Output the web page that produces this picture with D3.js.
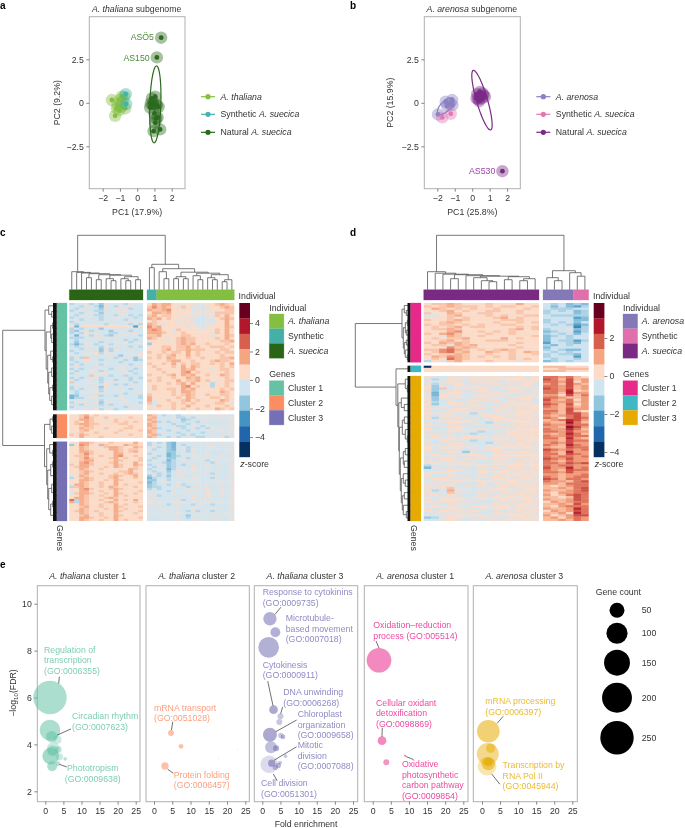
<!DOCTYPE html>
<html><head><meta charset="utf-8">
<script src="https://cdn.jsdelivr.net/npm/d3@7/dist/d3.min.js"></script>
<style>html,body{margin:0;background:#fff}svg{display:block;font-family:"Liberation Sans",Arial,sans-serif;filter:blur(.35px)}</style>
</head><body><svg id="c" width="685" height="828"></svg>
<script>
// ---------- PCA data (panel a) ----------
const aThalianaPC1=[-1.47,-1.28,-1.14,-1.03,-0.89,-0.7,-0.94,-1.18,-0.83,-0.75,-1.03];
const aThalianaPC2=[0.16,-0.75,-0.13,0.16,0.35,-0.32,-0.23,-0.32,0.06,0.35,-0.42];
const aSynthPC1=[-0.66,-0.64];
const aSynthPC2=[0.5,-0.07];
const aNaturalPC1=[1.14,1.39,0.85,0.95,0.75,1.24,1.04,1.1,1.18,1.04,1.33,0.95,1.0,0.91,0.79,1.14];
const aNaturalPC2=[2.61,3.74,0.25,-0.04,-0.27,-0.23,0.35,-0.9,-0.84,-1.15,-1.53,-1.63,-0.61,-0.07,-0.04,-0.13];
// ---------- PCA data (panel b) ----------
const bArenosaPC1=[-1.96,-1.52,-1.15,-1.29,-1.44,-1.13];
const bArenosaPC2=[-0.67,0.06,0.16,-0.07,-0.19,-0.13];
const bSynthPC1=[-1.71,-1.23];
const bSynthPC2=[-0.84,-0.63];
const bNaturalPC1=[0.29,0.44,0.64,0.54,0.35,0.73,0.6,0.44,0.25,0.4,1.73];
const bNaturalPC2=[0.5,0.63,0.44,0.25,0.21,0.35,0.54,0.38,0.25,0.1,-3.93];
// ellipses: centre, major half axis, minor half axis (PC units)
const aEllipse=[1.05,-0.09,0.07,2.21,0.32,0];
const bEllipseNat=[0.56,0.15,-0.5,1.71,0.3,0.09];
const bEllipseAre=[-1.52,-0.19,0.43,0.44,0.2,-0.2];
const pcTicksX=[-2,-1,0,1,2];
const pcTicksY=[-2.5,0,2.5];

// ---------- Heat map rows: one character per cell, code 7 = z 0, code 0 = lowest bin ----------
const cLeftA=["566756476675766","665675376576766","656766476767566","567665566778666","665676476676666","656765566577565","566676566766656","675666576765766","566767666667667","656676757666565","838888888888828","565666467767666","546756664676566","565767665576776","636757654667675","555667767766666","656676676675656","646766566767567","535765665667666","656676576766575","665767475676666","566676475766766","656768576666667","666667677646768","575966667567646","566876566675645","656767666656666","575666576666576","676667666677667","565667665676656","656686566677566","576666876667656","666697665665666","565677566667565","656766567566576","966676576766656","676767686565676","566676476676766","565676576766566","657668566676676","656767676665667","346676566576665","355677666676665","676766576667666","567668467677665","665766565666677","576676667665676","666768576566766"];
const cRightA=["8a9aa8878767889a98","9b9a987987767889a9","a99ab8878677788899","8aa9a8888777879999","9a89988787767798a8","a9a8987877667789a9","8988887787667688a8","a977888877667788a8","b9a8887878777888a9","aba8879888778898a8","aaa9878988888798a8","99a8888998888788a9","a978789a99888898a8","8888789a998888899a","4888889a9a88988898","88899899a898899989","8889a899a999888998","98898998a898889899","88989a88a898888988","9898a988988988899a","88889aa8898889a998","98898a89899889898a","8988898a8a98888989","8898888a9a88878998","8889888ab898888898","98889a8a9a88988a98","88988988a9a8888898","989888a899a8987899","8888989a8a88858898","8988888ab898858898","8988998a9a88888989","7888898aa988888a98","98888989a988988998","a8888898a988899898","a7889889a898888a98","968889898988889987","87988988a888988898","78888989889888a989"];
const cLeftB=["889a89888878888","889b98898888988","88aa98878988888","898a98888989898","89aa99878899888","889a98888888988","88a998898889988","889a88878898889","889889888988888","98a988888878988","88a888988888888"];
const cRightB=["a96566567767767776","9a6667556576676667","a96766645666767767","9a5657656657666676","a96665665766766667","a96766556765666777","9a5666756656576667","a96657665766767767","a96766566665676677","9a5666657566666766","a96657566655676757"];
const cLeftC=["88aa988898888a8","48ba88a9888a998","88a98869aa988a9","88a98888aa98998","88aa98888a989a8","889b98888aa8888","899a88988ab8898","889b98889a89889","889aa8888a98889","88ab98889a888a8","98aa98888a988a9","89aa88898a98898","88a988988888a98","889a98888899a88","889a88988989a98","68a988889a988a8","589a98889a88898","88aa98898a98888","88a988988a88889","7aa988988a89888","59a98898a988898","88ab98889a98888","78aa88988a88889","69aa98898a98898","88a988988a89888","8aa98889a988888","c5a988988a898a8","a5a98889a988898","88a988988a89888","889a88988a98889","88a988898a89888","89a989888a98889","88a988988a88898","889a88988a98888","88aa98898a88889","88a988988a89888"];
const cRightC=["575643666676766767","566743656766676767","675643675666776676","756643665766667667","666644675766766676","576634666766766767","665634576776766767","656744665667667667","576635676766576676","666545667667657667","566645656776767667","657645666766766767","566735676866766667","656646766776667667","675656776667656667","465646766766677667","356656676776656676","446756667676667667","356766766766766776","456656756667676767","455666765776766667","565667667667767767","676656676776766767","766667667666866767","675667666776876767","776666766867666667","676766756676776767","867667676766767667","766657766567656667","677666766676667667","766766766767676767","667676665756656667","766666766676676676","666767664666766767","767666765766677667","666676766777667667"];
const dLeftA=["899a98889888a88","989a99989899889","8a9898988988898","889a89889988988","988a98899888988","6689a8889898899","8889898889a8988","9889a9888899988","889a98888988989","989989898899888","8989a8998888989","899a98888889a89","888ab8898989888","98ab98889889888","887a98898888889","89899a8888a8988","889a89889998888","98a9a9888888988","8997a9a88889888","888b9a988888988","99bca98989a9888","89bc9a88a9898a9","9899a9889889889","8a9ba9898989888","898ca9888889898","5879a8889888788"];
const dRightA=["656454","646435","655566","565645","566645","655555","666634","566644","565646","656534","666625","566745","456635","565646","456566","466566","465535","366546","546566","466666","565446","656566","565546","566636","656656","456566"];
const dLeftB=["088888888888888","888888888888888","888888888888888"];
const dRightB=["999888","889999","999888"];
const dLeftC=["876877878877878","656787787788878","767876878767787","757787677877787","847687877677786","849767787678767","746786787767877","737887677878777","738776788776677","748786777677887","846767787867786","756877867778777","846886776677887","767677877787878","877788786877778","766787766877887","877867577677887","768777688877878","857786767887787","677878767878877","767887765677887","876776776867788","767887666787877","866786787767888","776877656678778","777766566778888","786768887777887","677878776877878","868776566787788","767787665777877","776877767687887","868787667878787","877776778876777","767874766878887","786777876887787","677767777778878","778878787886778","867876766877787","787778767777877","566777787778878","377767677878878","667886687687787","787767787887777","866876676778878","767777687877787","788767767887887","677787787778777","777876676878878","878767787687787","777977667887778","756a76677877787","867977777687888","786876687777877","767776777878787","778887686787787","877877766778778","676777667876887","787876887787877","767877677887787","878787876767878","677777766877787","767787877778877","457877687767878","667876767787787"];
const dRightC=["bbab98","cb9c9a","bbac8a","ab9ca9","bbac9a","cbac9a","bbad89","bb9daa","aa8c9b","bba99a","ca9b8a","baab9a","cb9c8a","ba9b9a","aa9caa","bb9c98","ba9cca","a9abca","ba8bcb","9abdca","a99eb9","baacbb","aa9eca","baadb9","bbacaa","a9adb9","baacbb","bb9da9","aa9cbb","abacaa","ba9dba","a99cbb","cbabab","ba9daa","bb9cba","babbab","cbacaa","ba9baa","bbacbc","babbaa","caadab","ba9cbb","bbacaa","aa9aab","ba9abb","cb9bba","baa9bc","aa9bbb","989abb","99a9bc","a99abc","98aabb","a89bcb","9989cb","a99acb","8a9abb","99a9ca","98abbb","a99adb","8a9acb","99a8db","a89acc","9a8aba","99a9ba"];

// ---------- Dendrogram structure: [height, left, right], 0 = leaf ----------
const treeCL=[18,0,[17.3,0,[16.7,0,[16,[12,0,0],[15,[10,0,0],[14.5,[11,0,[9,0,0]],[13,[11,0,[9,0,0]],[10,0,0]]]]]]]];
const treeCR=[25.4,[22,0,0],[21,[18,0,[11,0,0]],[17.5,[13,[11,0,0],[11,0,0]],[16.5,[14,0,[10,0,0]],[15,[12,0,[10,0,0]],[10,[8,0,0],0]]]]]];
const treeDL=[18,0,[16.5,0,[15.5,0,[15,[11,0,0],[14,0,[13.5,[12,0,[9,0,[8,0,0]]],[13,[10,0,0],[11,[9,0,0],0]]]]]]]];
const treeDR=[19,[12,0,[9,0,0]],[17,0,[13.5,0,0]]];
const rowC1=[11.7,[8,0,[5,0,0]],[10.5,[6,[4,0,0],[5,0,[3,0,0]]],[9,[6,0,[4,0,0]],[8,[5,0,[3,0,0]],[7,[4,0,0],[5,0,[3,0,0]]]]]]];
const rowC2=[6.7,[4,0,0],[5,0,[3,0,0]]];
const rowC3=[10,[7,0,[4,0,0]],[9,[6,[4,0,0],[3,0,0]],[8,[5,0,[3,0,0]],[6,[4,0,0],[3,0,0]]]]];
const rowD1=[8.3,[6,0,[4,0,0]],[7,[5,[3,0,0],[4,0,0]],[6,[4,0,0],[5,0,[3,0,0]]]]];
const rowD3=[12.5,[5,0,[3,0,0]],[11.5,[9,0,[6,0,0]],[11,[8,[6,0,0],[5,0,[3,0,0]]],[10,[7,[5,0,0],[6,0,0]],[9,[7,0,[5,0,0]],[8,[6,0,0],[7,0,[4,0,0]]]]]]]];

// ---------- Bubble data ----------
const fold1=[1.3,1.3,1.76,3.4,2.2,3.6,1.5,3.9,5.5,1.9,3.5,2.0];
const fdr1=[6.0,4.61,4.33,4.2,3.83,3.78,3.5,3.47,3.38,3.07,3.18,3.73];
const count1=[250,96,29,14,36,10,62,12,3,22,5,25];
const alpha1=[.55,.55,.55,.35,.35,.45,.6,.35,.45,.55,.5,.5];
const fold2=[4.66,7.4,3.0,17.6,22.9];
const fdr2=[4.49,3.92,3.08,3.4,3.77];
const count2=[8,5,12,.2,.2];
const alpha2=[.55,.55,.55,.55,.55];
const fold3=[2.1,3.6,1.75,3.1,5,4.7,2.1,5.1,5.7,2.4,3.8,6.4,1.9,2.6,4.4,3.6,4.9];
const fdr3=[9.36,8.78,8.14,5.48,5.2,4.96,4.41,4.38,4.32,3.88,3.84,3.5,3.15,3.2,3.1,3.02,3.22];
const count3=[40,22,96,17,8,8,44,6.5,5,32,8,3,68,12,6.5,6.5,3.6];
const alpha3=[.55,.55,.55,.6,.4,.4,.6,.4,.5,.45,.6,.4,.25,.6,.5,.45,.4];
const fold4=[1.74,2.56,3.75,8.9];
const fdr4=[7.59,4.16,3.24,3.52];
const count4=[136,17,8,1];
const alpha4=[.55,.55,.5,.5];
const fold5=[1.75,1.6,2.4,1.4,1.75,1.75];
const fdr5=[4.56,3.59,3.84,3.07,3.18,3.24];
const count5=[115,108,20,78,40,17];
const alpha5=[.55,.45,.5,.3,.55,.6];
const foldTicks=[0,5,10,15,20,25];
const fdrTicks=[2,4,6,8,10];
const legendCounts=[50,100,150,200,250];
const heatColours=["#053061","#2166ac","#4393c3","#92c5de","#d1e5f0","#fddbc7","#f4a582","#d6604d","#b2182b","#67001f"];

const panelTitles=["*A. thaliana* cluster 1","*A. thaliana* cluster 2","*A. thaliana* cluster 3","*A. arenosa* cluster 1","*A. arenosa* cluster 3"];
const panelColours=["#66c2a5","#fc8d62","#7570b3","#e7298a","#e6ab02"];
const panelTextColours=["#7fcfb3","#fd9f7d","#8f8bc4","#ec4aa0","#ecbb30"];
// annotations: lines, text x/y (fold, -log10 FDR), leader from/to, anchor
const notes=[
 [{l:["Regulation of","transcription","(GO:0006355)"],p:[-0.36,8.04],k:[3.88,6.89,3.71,6.6]},
  {l:["Circadian rhythm","(GO:0007623)"],p:[7.4,5.2],k:[7.12,4.66,3.32,4.4]},
  {l:["Phototropism","(GO:0009638)"],p:[13.13,2.99],k:[5.93,3.04,3.88,3.15],a:"middle"}],
 [{l:["mRNA transport","(GO:0051028)"],p:[0,5.57],k:[5.15,4.97,4.77,4.61]},
  {l:["Protein folding","(GO:0006457)"],p:[5.4,2.7],k:[5.3,2.77,3.75,2.94]}],
 [{l:["Response to cytokinins","(GO:0009735)"],p:[0.1,10.49],k:[5.15,9.85,3.5,9.55]},
  {l:["Microtubule-","based movement","(GO:0007018)"],p:[6.45,9.39]},
  {l:["Cytokinesis","(GO:0000911)"],p:[0.1,7.4],k:[1.49,6.7,2.95,5.65]},
  {l:["DNA unwinding","(GO:0006268)"],p:[5.79,6.23],k:[5.6,5.6,5.07,5.31]},
  {l:["Chloroplast","organization","(GO:0009658)"],p:[9.74,5.28],k:[9.47,5.04,3.69,4.54]},
  {l:["Mitotic","division","(GO:0007088)"],p:[9.74,3.96],k:[9.47,3.9,3.3,3.33]},
  {l:["Cell division","(GO:0051301)"],p:[-0.36,2.34],k:[3.03,2.74,4.13,2.44]}],
 [{l:["Oxidation–reduction","process (GO:005514)"],p:[0.17,9.08],k:[0.91,8.41,1.74,8.11]},
  {l:["Cellular oxidant","detoxification","(GO:0098869)"],p:[0.91,5.78],k:[2.65,4.71,2.56,4.33]},
  {l:["Oxidative","photosynthetic","carbon pathway","(GO:0009854)"],p:[8.07,3.15],k:[9.1,3.49,11.3,3.35]}],
 [{l:["mRNA processing","(GO:0006397)"],p:[0.92,5.85],k:[5.87,5.2,4.21,4.9]},
  {l:["Transcription by","RNA Pol II","(GO:0045944)"],p:[5.7,3.11],k:[4.96,2.3,2.67,2.74]}]
];

// ---------- Helpers ----------
const svg=d3.select("#c");
const TXT="#333";
const FS=8.75;
function rich(sel,s){ // *italic* markup
  s.split("*").forEach((t,i)=>{ if(t) sel.append("tspan").attr("font-style",i%2?"italic":"normal").text(t); });
  return sel;
}
function label(x,y,s,opt={}){
  const t=svg.append("text").attr("x",x).attr("y",y).attr("dy",".35em")
    .attr("font-size",opt.size||FS).attr("fill",opt.fill||TXT)
    .attr("text-anchor",opt.anchor||"start");
  if(opt.bold) t.attr("font-weight","bold");
  if(opt.rotate!=null) t.attr("transform",`rotate(${opt.rotate} ${x} ${y})`);
  return rich(t,s);
}
function styleAxis(g){
  g.select(".domain").remove();
  g.selectAll(".tick line").attr("stroke","#555").attr("stroke-width",.7);
  g.selectAll(".tick text").attr("font-size",FS).attr("fill",TXT).attr("font-family",'"Liberation Sans",Arial,sans-serif');
}
const minus=d=>String(d).replace("-","\u2212");

// ---------- PCA panels ----------
function pca(cfg){
  const x=d3.scaleLinear().domain([-2,2]).range([cfg.x0,cfg.x0+cfg.dx*4]);
  const y=d3.scaleLinear().domain([-2.5,2.5]).range([146.3,59.3]);
  svg.append("rect").attr("x",cfg.l).attr("y",16.7).attr("width",cfg.r-cfg.l).attr("height",172)
    .attr("fill","#fff").attr("stroke","#b0b0b0").attr("stroke-width",1);
  svg.append("g").attr("transform","translate(0,188.7)").call(d3.axisBottom(x).tickValues(pcTicksX).tickSize(3).tickPadding(3).tickFormat(minus)).call(styleAxis);
  svg.append("g").attr("transform",`translate(${cfg.l},0)`).call(d3.axisLeft(y).tickValues(pcTicksY).tickSize(3).tickPadding(2.5).tickFormat(d=>d===0?"0":minus(d))).call(styleAxis);
  const layer=svg.append("g");
  cfg.groups.forEach(g=>{
    const pts=d3.zip(g.px,g.py);
    layer.append("g").selectAll("circle").data(pts).join("circle").attr("cx",d=>x(d[0])).attr("cy",d=>y(d[1])).attr("r",6.2).attr("fill",g.c).attr("opacity",.42);
    layer.append("g").selectAll("circle").data(pts).join("circle").attr("cx",d=>x(d[0])).attr("cy",d=>y(d[1])).attr("r",2.4).attr("fill",g.c);
  });
  cfg.ellipses.forEach(e=>{
    const line=d3.line().x(t=>x(e.v[0]+Math.cos(t)*e.v[2]+Math.sin(t)*e.v[4])).y(t=>y(e.v[1]+Math.cos(t)*e.v[3]+Math.sin(t)*e.v[5])).curve(d3.curveCardinalClosed);
    layer.append("path").attr("d",line(d3.range(0,Math.PI*2,Math.PI/30))).attr("fill","none").attr("stroke",e.c).attr("stroke-width",1.2);
  });
  label((cfg.l+cfg.r)/2-.5,9,cfg.title,{anchor:"middle"});
  label((cfg.l+cfg.r)/2,212,cfg.xlab,{anchor:"middle"});
  label(cfg.yt,102.7,cfg.ylab,{anchor:"middle",rotate:-90});
  cfg.tags.forEach(t=>label(t.x,t.y,t.s,{anchor:"end",fill:cfg.tagC}));
  cfg.groups.forEach((g,i)=>{
    const ly=[96.7,114.3,132.3][i];
    svg.append("line").attr("x1",cfg.r+16).attr("x2",cfg.r+30).attr("y1",ly).attr("y2",ly).attr("stroke",g.c).attr("stroke-width",1.2);
    svg.append("circle").attr("cx",cfg.r+23).attr("cy",ly).attr("r",2.6).attr("fill",g.c);
    label(cfg.r+35.5,ly,g.name);
  });
}
pca({x0:102.7,dx:17.25,l:89.3,r:185,yt:57,title:"*A. thaliana* subgenome",xlab:"PC1 (17.9%)",ylab:"PC2 (9.2%)",tagC:"#4d8c3a",
 tags:[{x:154,y:37,s:"ASÖ5"},{x:149.7,y:58.3,s:"AS150"}],
 groups:[{px:aThalianaPC1,py:aThalianaPC2,c:"#84bf41",name:"*A. thaliana*"},{px:aSynthPC1,py:aSynthPC2,c:"#45b3ad",name:"Synthetic *A. suecica*"},{px:aNaturalPC1,py:aNaturalPC2,c:"#2a6a1c",name:"Natural *A. suecica*"}],
 ellipses:[{v:aEllipse,c:"#2a6a1c"}]});
pca({x0:437.3,dx:17.45,l:424.3,r:520.3,yt:390,title:"*A. arenosa* subgenome",xlab:"PC1 (25.8%)",ylab:"PC2 (15.9%)",tagC:"#9a45a8",
 tags:[{x:495.3,y:171,s:"AS530"}],
 groups:[{px:bArenosaPC1,py:bArenosaPC2,c:"#8a80c2",name:"*A. arenosa*"},{px:bSynthPC1,py:bSynthPC2,c:"#e377b5",name:"Synthetic *A. suecica*"},{px:bNaturalPC1,py:bNaturalPC2,c:"#7b2a88",name:"Natural *A. suecica*"}],
 ellipses:[{v:bEllipseNat,c:"#7b2a88"},{v:bEllipseAre,c:"#8a80c2"}]});

// ---------- Heat maps ----------
const zColour=d3.scaleLinear().domain(d3.range(-4.5,5,1)).range(heatColours).clamp(true);
function heatBlock(rows,x0,x1,y0,y1,cols,gain){
  const xs=d3.scaleBand().domain(d3.range(cols)).range([x0,x1]);
  const ys=d3.scaleBand().domain(d3.range(rows.length)).range([y0,y1]);
  const cells=[];
  rows.forEach((r,i)=>{const s=r.padEnd(cols,"7").slice(0,cols);for(let j=0;j<cols;j++){const v=parseInt(s[j],36);cells.push({i,j,z:v===0?-4.5:(v-7)*gain});}});
  svg.append("g").selectAll("rect").data(cells).join("rect")
    .attr("x",d=>xs(d.j)).attr("y",d=>ys(d.i)).attr("width",d=>xs.bandwidth()+(d.j<cols-1?.4:0)).attr("height",d=>ys.bandwidth()+(d.i<rows.length-1?.4:0)).attr("fill",d=>zColour(d.z));
}
function leaves(t){return t===0?1:leaves(t[1])+leaves(t[2]);}
// lay a tree out over leaf positions; h->coordinate through scale
function drawTree(t,pos,hs,vertical,root){
  const segs=[];let k=0;
  (function rec(n){
    if(n===0) return {p:pos[k++],h:0};
    const a=rec(n[1]),b=rec(n[2]);
    segs.push([a.p,a.h,a.p,n[0]],[b.p,b.h,b.p,n[0]],[a.p,n[0],b.p,n[0]]);
    return {p:(a.p+b.p)/2,h:n[0]};
  })(t);
  const g=root||svg.append("g");
  g.selectAll(null).data(segs).join("line").attr("stroke","#555").attr("stroke-width",.8)
    .attr("x1",d=>vertical?hs(d[1]):d[0]).attr("x2",d=>vertical?hs(d[3]):d[2])
    .attr("y1",d=>vertical?d[0]:hs(d[1])).attr("y2",d=>vertical?d[2]:hs(d[3]));
}
function span(lo,hi,n){const s=d3.scaleBand().domain(d3.range(n)).range([lo,hi]);return d3.range(n).map(i=>s(i)+s.bandwidth()/2);}
function swatch(x,y,w,h,c){svg.append("rect").attr("x",x).attr("y",y).attr("width",w).attr("height",h).attr("fill",c).attr("stroke",c).attr("stroke-opacity",.35).attr("stroke-width",.8);}

function heatmap(cfg){
  cfg.blocks.forEach(b=>{
    heatBlock(b.rowsL,cfg.xL[0],cfg.xL[1],b.y[0],b.y[1],cfg.nL,.45);
    heatBlock(b.rowsR,cfg.xR[0],cfg.xR[1],b.y[0],b.y[1],cfg.nR,cfg.gainR);
    swatch(cfg.annX[0],b.y[0],cfg.annX[1]-cfg.annX[0],b.y[1]-b.y[0],b.c);
  });
  // top annotation
  cfg.top.forEach(s=>swatch(s[0],289.7,s[1]-s[0],10.3,s[2]));
  // top dendrogram
  const ht=d3.scaleLinear().domain([0,54.4]).range([289.7,235.3]);
  const colL=span(cfg.xL[0],cfg.xL[1],cfg.nL),colR=span(cfg.xR[0],cfg.xR[1],cfg.nR);
  const g=svg.append("g");
  drawTree(cfg.treeL,colL,ht,false,g);
  drawTree(cfg.treeR,colR,ht,false,g);
  const rootPos=(t,pos)=>{let k=0;const r=n=>n===0?pos[k++]:(r(n[1])+r(n[2]))/2;return r(t);};
  const a=rootPos(cfg.treeL,colL),b=rootPos(cfg.treeR,colR);
  g.selectAll(null).data([[a,cfg.treeL[0],a,54.4],[b,cfg.treeR[0],b,54.4],[a,54.4,b,54.4]]).join("line").attr("stroke","#555").attr("stroke-width",.8)
    .attr("x1",d=>d[0]).attr("x2",d=>d[2]).attr("y1",d=>ht(d[1])).attr("y2",d=>ht(d[3]));
  // row dendrogram
  const hr=d3.scaleLinear().domain([0,cfg.rowRootH]).range([cfg.annX[0],cfg.rowRootX]);
  let pos=[];cfg.rowSpans.forEach(s=>{pos=pos.concat(span(s[0],s[1],leaves(s[2])));});
  drawTree(cfg.rowTree,pos,hr,true);
  cfg.blocks.forEach(b=>svg.append("rect").attr("x",cfg.stripX).attr("y",b.y[0]).attr("width",cfg.annX[0]-cfg.stripX).attr("height",b.y[1]-b.y[0]).attr("fill","#111"));
  // colour bar
  const yb=d3.scaleLinear().domain(cfg.cbDomain).range([303,457]);
  const seg=d3.scaleBand().domain(d3.range(10)).range([303,457]);
  svg.append("g").selectAll("rect").data(heatColours.slice().reverse()).join("rect").attr("x",cfg.cbX).attr("y",(d,i)=>seg(i)).attr("width",10.7).attr("height",seg.bandwidth()+.2).attr("fill",d=>d);
  svg.append("g").attr("transform",`translate(${cfg.cbX+10.7},0)`).call(d3.axisRight(yb).tickValues(cfg.cbTicks).tickSize(3).tickPadding(2).tickFormat(minus)).call(styleAxis);
  label(cfg.cbX-.7,296,"Individual");
  label(cfg.cbX+1,464,"*z*-score");
  // legends
  label(cfg.legX,308,"Individual");
  cfg.legInd.forEach((d,i)=>{swatch(cfg.legX,314+i*14.8,14.6,14.6,d[1]);label(cfg.legX+18.7,321.4+i*14.8,d[0]);});
  label(cfg.legX,374.3,"Genes");
  cfg.legGen.forEach((d,i)=>{swatch(cfg.legX,cfg.legGY+i*14.8,14.6,14.6,d[1]);label(cfg.legX+18.7,cfg.legGY+7.3+i*14.8,d[0]);});
  label(cfg.genesX,525,"Genes",{rotate:90});
}
heatmap({xL:[69.3,143],xR:[147,234.3],nL:15,nR:18,gainR:.45,annX:[56.7,67],stripX:53,
 blocks:[{rowsL:cLeftA,rowsR:cRightA,y:[303,410.3],c:panelColours[0]},{rowsL:cLeftB,rowsR:cRightB,y:[414.3,438],c:panelColours[1]},{rowsL:cLeftC,rowsR:cRightC,y:[441.7,521],c:panelColours[2]}],
 top:[[69.3,143,"#2a6516"],[147,156.7,"#45b0a8"],[156.7,234.3,"#84bf41"]],
 treeL:treeCL,treeR:treeCR,
 rowTree:[54,rowC1,[12.2,rowC2,rowC3]],rowRootH:54,rowRootX:2.7,
 rowSpans:[[303,410.3,rowC1],[414.3,438,rowC2],[441.7,521,rowC3]],
 cbX:239.3,cbDomain:[5.4,-5.4],cbTicks:[4,2,0,-2,-4],legX:269.3,legGY:380.7,genesX:60,
 legInd:[["*A. thaliana*","#84bf41"],["Synthetic","#45b0a8"],["*A. suecica*","#2a6516"]],
 legGen:[["Cluster 1","#66c2a5"],["Cluster 2","#fc8d62"],["Cluster 3","#7570b3"]]});
heatmap({xL:[423.7,539],xR:[543,588.7],nL:15,nR:6,gainR:.55,annX:[410.3,421],stripX:407.5,
 blocks:[{rowsL:dLeftA,rowsR:dRightA,y:[303,362.3],c:"#e7298a"},{rowsL:dLeftB,rowsR:dRightB,y:[365.7,372],c:"#3fb8c4"},{rowsL:dLeftC,rowsR:dRightC,y:[376,521],c:"#e6ab02"}],
 top:[[423.7,539,"#7b2a84"],[543,573.3,"#8478b8"],[573.3,588.7,"#e070ac"]],
 treeL:treeDL,treeR:treeDR,
 rowTree:[55,rowD1,[14.3,0,rowD3]],rowRootH:55,rowRootX:355.3,
 rowSpans:[[303,362.3,rowD1],[365.7,372,0],[376,521,rowD3]],
 cbX:593.7,cbDomain:[3.84,-4.26],cbTicks:[2,0,-2,-4],legX:623,legGY:380.7,genesX:414.5,
 legInd:[["*A. arenosa*","#8478b8"],["Synthetic","#e070ac"],["*A. suecica*","#7b2a84"]],
 legGen:[["Cluster 1","#e7298a"],["Cluster 2","#3fb8c4"],["Cluster 3","#e6ab02"]]});

// ---------- Bubble panels ----------
const rScale=d3.scaleSqrt().domain([0,250]).range([0,16.7]);
const yE=d3.scaleLinear().domain([2,10]).range([791.3,603.7]);
const panelsE=[
 {l:37.3,r:140,x0:45.3,x25:135.7,f:fold1,v:fdr1,n:count1,a:alpha1},
 {l:146,r:249.3,x0:154,x25:245.3,f:fold2,v:fdr2,n:count2,a:alpha2},
 {l:254.3,r:357.7,x0:262.3,x25:353,f:fold3,v:fdr3,n:count3,a:alpha3},
 {l:364.3,r:468,x0:372.7,x25:463.3,f:fold4,v:fdr4,n:count4,a:alpha4},
 {l:473.3,r:577.3,x0:482,x25:572.3,f:fold5,v:fdr5,n:count5,a:alpha5}];
panelsE.forEach((p,i)=>{
  const x=d3.scaleLinear().domain([0,25]).range([p.x0,p.x25]);
  svg.append("rect").attr("x",p.l).attr("y",585.7).attr("width",p.r-p.l).attr("height",216).attr("fill","#fff").attr("stroke","#b0b0b0").attr("stroke-width",1);
  svg.append("g").attr("transform","translate(0,801.7)").call(d3.axisBottom(x).tickValues(foldTicks).tickSize(3).tickPadding(3).tickFormat(d3.format("d"))).call(styleAxis);
  if(i===0) svg.append("g").attr("transform",`translate(${p.l},0)`).call(d3.axisLeft(yE).tickValues(fdrTicks).tickSize(3).tickPadding(2.5)).call(styleAxis);
  svg.append("g").selectAll("circle").data(d3.range(p.f.length)).join("circle")
    .attr("cx",j=>x(p.f[j])).attr("cy",j=>yE(p.v[j])).attr("r",j=>rScale(p.n[j])).attr("fill",panelColours[i]).attr("opacity",j=>p.a[j]);
  label((p.l+p.r)/2-1,576,panelTitles[i],{anchor:"middle"});
  notes[i].forEach(nt=>{
    if(nt.k) svg.append("line").attr("x1",x(nt.k[0])).attr("y1",yE(nt.k[1])).attr("x2",x(nt.k[2])).attr("y2",yE(nt.k[3])).attr("stroke","#333").attr("stroke-width",.7);
    nt.l.forEach((s,j)=>label(x(nt.p[0]),yE(nt.p[1])+j*10.45,s,{fill:panelTextColours[i],anchor:nt.a||"start"}));
  });
});
label(306,824,"Fold enrichment",{anchor:"middle"});
const yt=svg.append("text").attr("transform","translate(13,693) rotate(-90)").attr("text-anchor","middle").attr("dy",".35em").attr("font-size",FS).attr("fill",TXT);
yt.append("tspan").text("−log");
yt.append("tspan").attr("font-size",6.2).attr("dy",2).text("10");
yt.append("tspan").attr("dy",-2).text("(FDR)");
// gene count legend
const legYpos=[610.3,633.3,662.7,697.7,737.7];
label(595.7,591.7,"Gene count");
svg.append("g").selectAll("circle").data(legendCounts).join("circle").attr("cx",617).attr("cy",(d,i)=>legYpos[i]).attr("r",d=>rScale(d)).attr("fill","#000");
legendCounts.forEach((d,i)=>label(641.7,legYpos[i],String(d)));

// panel letters
[["a",0,5],["b",350,5],["c",0,232.7],["d",350,232.7],["e",0,564]].forEach(d=>label(d[1],d[2],d[0],{bold:true,size:10,fill:"#000"}));
</script></body></html>
